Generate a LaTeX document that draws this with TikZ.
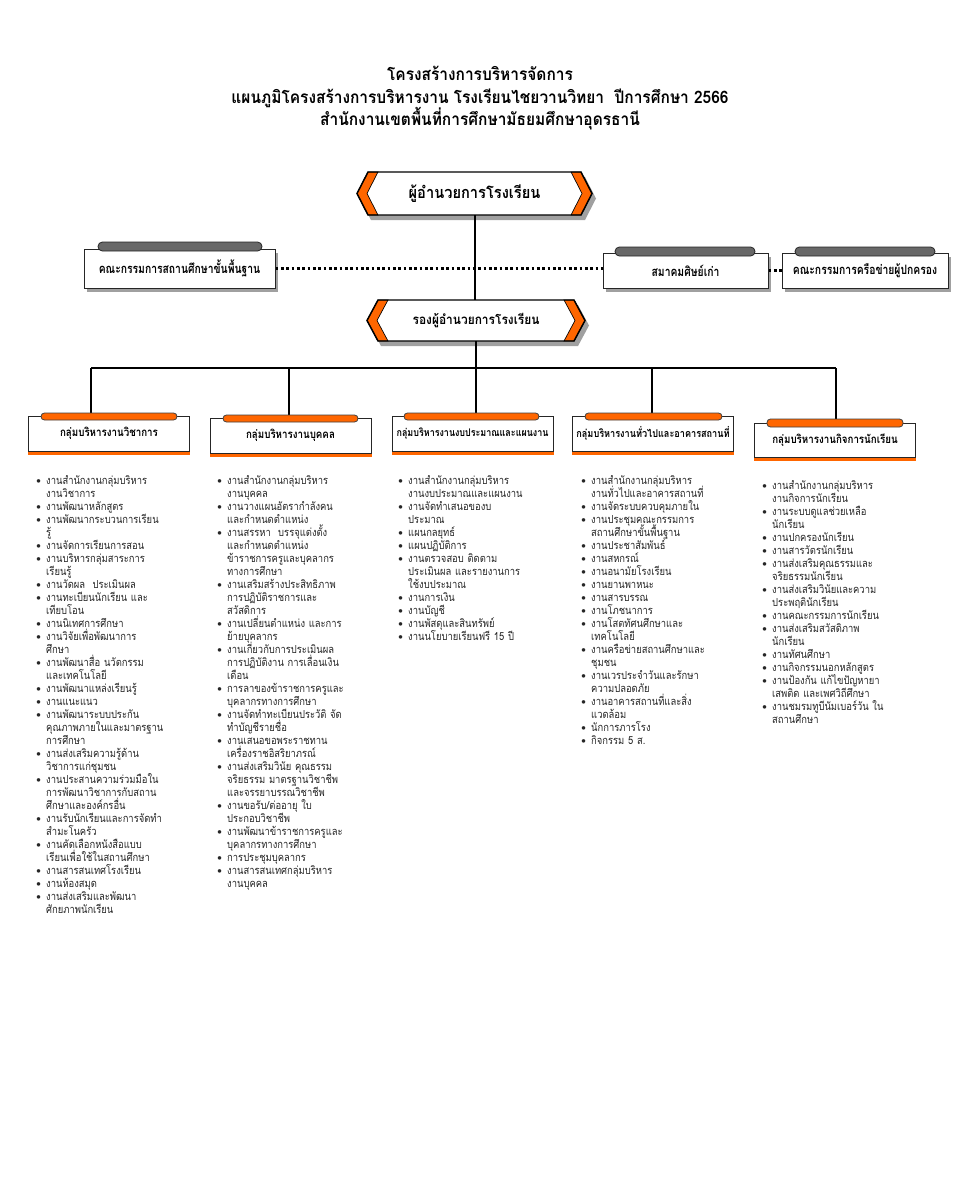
\documentclass[tikz,border=0pt]{standalone}
\usepackage{fontspec}
\setmainfont[Script=Thai]{Loma}
\newfontfamily\lomaA[Script=Thai,FakeStretch=0.85]{Loma}
\newfontfamily\lomaB[Script=Thai,FakeStretch=0.9]{Loma}
\newfontfamily\lomaC[Script=Thai,FakeStretch=0.8]{Loma}
\usetikzlibrary{shadows}
\definecolor{orng}{HTML}{FF6600}
\definecolor{pillgray}{HTML}{686868}
\definecolor{shgray}{HTML}{A0A0A0}
\newcommand\chevbox[4]{%
  \pgfmathsetmacro\chevmid{(#2+#4)/2}%
  \fill[shgray] ({#1+3},{\chevmid+5}) -- ({#1+14},{#2+5}) -- ({#3-7},{#2+5}) -- ({#3+4},{\chevmid+5}) -- ({#3-7},{#4+5}) -- ({#1+14},{#4+5}) -- cycle;
  \fill[white] (#1,\chevmid) -- ({#1+11},#2) -- ({#3-11},#2) -- (#3,\chevmid) -- ({#3-11},#4) -- ({#1+11},#4) -- cycle;
  \filldraw[fill=orng, draw=black, line width=0.5pt] (#1,\chevmid) -- ({#1+11},#2) -- ({#1+21},#2) -- ({#1+10},\chevmid) -- ({#1+21},#4) -- ({#1+11},#4) -- cycle;
  \filldraw[fill=orng, draw=black, line width=0.5pt] (#3,\chevmid) -- ({#3-11},#2) -- ({#3-21},#2) -- ({#3-10},\chevmid) -- ({#3-21},#4) -- ({#3-11},#4) -- cycle;
  \draw[line width=1.1pt, line join=miter] (#1,\chevmid) -- ({#1+11},#2) -- ({#3-11},#2) -- (#3,\chevmid) -- ({#3-11},#4) -- ({#1+11},#4) -- cycle;
}
\newcommand\bu{\makebox[8pt][l]{\hspace{0.6pt}\raisebox{0.3pt}{\scalebox{0.8}{$\bullet$}}}}
\newcommand\ct{\hspace*{8pt}}
\newcommand\lstart{\lineskiplimit=-50pt\lineskip=0pt\rule{0pt}{10pt}}
\tikzset{
  ttl/.style={font=\lomaB\bfseries\fontsize{12.9}{15}\selectfont, anchor=base, inner sep=0pt},
  headlbl/.style={font=\lomaB\bfseries\fontsize{12.2}{14}\selectfont, inner sep=0pt, minimum width=176.25pt, minimum height=32.25pt},
  deplbl/.style={font=\lomaB\bfseries\fontsize{9.95}{12}\selectfont, inner sep=0pt, minimum width=163.5pt, minimum height=30.75pt},
  cbox/.style={draw=black!85, line width=0.75pt, fill=white, inner sep=0pt, font=\lomaC\bfseries\fontsize{9.7}{11}\selectfont, general shadow={fill=shgray, shadow xshift=2.25pt, shadow yshift=-3pt}},
  gbox/.style={draw=black!85, line width=0.75pt, fill=white, inner sep=0pt, minimum width=120.75pt, minimum height=26.25pt, font=\lomaA\bfseries\fontsize{8.6}{10}\selectfont},
  gsmall/.style={font=\lomaA\bfseries\fontsize{7.9}{10}\selectfont},
  gmid/.style={font=\lomaA\bfseries\fontsize{8.05}{10}\selectfont},
  opill/.style={draw=black!75, fill=orng, line width=0.6pt, rounded corners=2.6pt},
  gpill/.style={draw=black!85, fill=pillgray, line width=0.6pt, rounded corners=3.3pt},
  conn/.style={line width=1.5pt},
  barline/.style={line width=1.9pt},
  dotline/.style={line width=2.2pt, dash pattern=on 2.2pt off 1.8pt},
  lst/.style={anchor=north west, inner sep=0pt, text width=165pt, align=left, font=\lomaA\fontsize{8.3}{9.75}\selectfont, text=black!85},
}
\begin{document}
\begin{tikzpicture}[x=0.75pt,y=-0.75pt]
\useasboundingbox (0,0) rectangle (960,1200);
\fill[white] (0,0) rectangle (960,1200);

% titles
\node[ttl] (t1) at (480,80) {โครงสร้างการบริหารจัดการ};
\node[ttl] (t2) at (480,103) {แผนภูมิโครงสร้างการบริหารงาน โรงเรียนไชยวานวิทยา\ \ ปีการศึกษา 2566};
\node[ttl] (t3) at (480,125) {สำนักงานเขตพื้นที่การศึกษามัธยมศึกษาอุดรธานี};

% chevron boxes
\chevbox{357}{172}{592}{215}
\chevbox{367}{300}{585}{341}
\node[headlbl] (dir) at (474.5,193.5) {ผู้อำนวยการโรงเรียน};
\node[deplbl] (dep) at (476,320.5) {รองผู้อำนวยการโรงเรียน};

% committees
\node[cbox, minimum width=143.25pt, minimum height=29.25pt] (c1) at (179.5,268.5) {คณะกรรมการสถานศึกษาขั้นพื้นฐาน};
\node[cbox, minimum width=123.75pt, minimum height=26.25pt] (c2) at (685.5,270.5) {สมาคมศิษย์เก่า};
\node[cbox, minimum width=124.5pt, minimum height=26.25pt] (c3) at (865,270.5) {คณะกรรมการครือข่ายผู้ปกครอง};
\draw[gpill] (98,242) rectangle (262,251);
\draw[gpill] (615,247) rectangle (755,256);
\draw[gpill] (795,247) rectangle (935,256);
\draw[dotline] (c1.east) -- (c1.east -| c2.west);
\draw[dotline] (c2.east) -- (c3.west);

% trunk
\draw[conn] (dir.south) -- (dir.south |- dep.north);
\coordinate (j1) at (91,368);
\coordinate (j2) at (289,368);
\coordinate (j3) at (476,368);
\coordinate (j4) at (652,368);
\coordinate (j5) at (836,368);
\draw[conn] (dep.south) -- (j3);
\draw[barline] (j1) -- (j5);

% group boxes
\node[gbox] (g1) at (109,433.5) {กลุ่มบริหารงานวิชาการ};
\node[gbox] (g2) at (290.5,435.5) {กลุ่มบริหารงานบุคคล};
\node[gbox, gsmall] (g3) at (472.5,433.5) {กลุ่มบริหารงานงบประมาณและแผนงาน};
\node[gbox, gmid] (g4) at (653,433.5) {กลุ่มบริหารงานทั่วไปและอาคารสถานที่};
\node[gbox, minimum height=25.5pt] (g5) at (835,440) {กลุ่มบริหารงานกิจการนักเรียน};
\foreach \g in {g1,g2,g3,g4,g5}{
  \fill[orng] (\g.south west) rectangle ([yshift=-2.6pt]\g.south east);
}
\draw[conn] (j1) -- (j1 |- g1.north);
\draw[conn] (j2) -- (j2 |- g2.north);
\draw[conn] (j3) -- (j3 |- g3.north);
\draw[conn] (j4) -- (j4 |- g4.north);
\draw[conn] (j5) -- (j5 |- g5.north);
\draw[opill] (41,413) rectangle (177,420);
\draw[opill] (223,415) rectangle (358,422);
\draw[opill] (404,413) rectangle (539,420);
\draw[opill] (585,413) rectangle (722,420);
\draw[opill] (767,419) rectangle (903,427);

% lists
\node[lst] (l1) at (35.3,470.7) {\lstart\bu งานสำนักงานกลุ่มบริหาร\\
\ct งานวิชาการ\\
\bu งานพัฒนาหลักสูตร\\
\bu งานพัฒนากระบวนการเรียน\\
\ct รู้\\
\bu งานจัดการเรียนการสอน\\
\bu งานบริหารกลุ่มสาระการ\\
\ct เรียนรู้\\
\bu งานวัดผล\ \ ประเมินผล\\
\bu งานทะเบียนนักเรียน และ\\
\ct เทียบโอน\\
\bu งานนิเทศการศึกษา\\
\bu งานวิจัยเพื่อพัฒนาการ\\
\ct ศึกษา\\
\bu งานพัฒนาสื่อ นวัตกรรม\\
\ct และเทคโนโลยี\\
\bu งานพัฒนาแหล่งเรียนรู้\\
\bu งานแนะแนว\\
\bu งานพัฒนาระบบประกัน\\
\ct คุณภาพภายในและมาตรฐาน\\
\ct การศึกษา\\
\bu งานส่งเสริมความรู้ด้าน\\
\ct วิชาการแก่ชุมชน\\
\bu งานประสานความร่วมมือใน\\
\ct การพัฒนาวิชาการกับสถาน\\
\ct ศึกษาและองค์กรอื่น\\
\bu งานรับนักเรียนและการจัดทำ\\
\ct สำมะโนครัว\\
\bu งานคัดเลือกหนังสือแบบ\\
\ct เรียนเพื่อใช้ในสถานศึกษา\\
\bu งานสารสนเทศโรงเรียน\\
\bu งานห้องสมุด\\
\bu งานส่งเสริมและพัฒนา\\
\ct ศักยภาพนักเรียน};

\node[lst] (l2) at (216.3,470.7) {\lstart\bu งานสำนักงานกลุ่มบริหาร\\
\ct งานบุคคล\\
\bu งานวางแผนอัตรากำลังคน\\
\ct และกำหนดตำแหน่ง\\
\bu งานสรรหา\ \ บรรจุแต่งตั้ง\\
\ct และกำหนดตำแหน่ง\\
\ct ข้าราชการครูและบุคลากร\\
\ct ทางการศึกษา\\
\bu งานเสริมสร้างประสิทธิภาพ\\
\ct การปฏิบัติราชการและ\\
\ct สวัสดิการ\\
\bu งานเปลี่ยนตำแหน่ง และการ\\
\ct ย้ายบุคลากร\\
\bu งานเกี่ยวกับการประเมินผล\\
\ct การปฏิบัติงาน การเลื่อนเงิน\\
\ct เดือน\\
\bu การลาของข้าราชการครูและ\\
\ct บุคลากรทางการศึกษา\\
\bu งานจัดทำทะเบียนประวัติ จัด\\
\ct ทำบัญชีรายชื่อ\\
\bu งานเสนอขอพระราชทาน\\
\ct เครื่องราชอิสริยาภรณ์\\
\bu งานส่งเสริมวินัย คุณธรรม\\
\ct จริยธรรม มาตรฐานวิชาชีพ\\
\ct และจรรยาบรรณวิชาชีพ\\
\bu งานขอรับ/ต่ออายุ ใบ\\
\ct ประกอบวิชาชีพ\\
\bu งานพัฒนาข้าราชการครูและ\\
\ct บุคลากรทางการศึกษา\\
\bu การประชุมบุคลากร\\
\bu งานสารสนเทศกลุ่มบริหาร\\
\ct งานบุคคล};

\node[lst] (l3) at (397.3,470.7) {\lstart\bu งานสำนักงานกลุ่มบริหาร\\
\ct งานงบประมาณและแผนงาน\\
\bu งานจัดทำเสนอของบ\\
\ct ประมาณ\\
\bu แผนกลยุทธ์\\
\bu แผนปฏิบัติการ\\
\bu งานตรวจสอบ ติดตาม\\
\ct ประเมินผล และรายงานการ\\
\ct ใช้งบประมาณ\\
\bu งานการเงิน\\
\bu งานบัญชี\\
\bu งานพัสดุและสินทรัพย์\\
\bu งานนโยบายเรียนฟรี 15 ปี};

\node[lst] (l4) at (580.3,470.7) {\lstart\bu งานสำนักงานกลุ่มบริหาร\\
\ct งานทั่วไปและอาคารสถานที่\\
\bu งานจัดระบบควบคุมภายใน\\
\bu งานประชุมคณะกรรมการ\\
\ct สถานศึกษาขั้นพื้นฐาน\\
\bu งานประชาสัมพันธ์\\
\bu งานสหกรณ์\\
\bu งานอนามัยโรงเรียน\\
\bu งานยานพาหนะ\\
\bu งานสารบรรณ\\
\bu งานโภชนาการ\\
\bu งานโสตทัศนศึกษาและ\\
\ct เทคโนโลยี\\
\bu งานครือข่ายสถานศึกษาและ\\
\ct ชุมชน\\
\bu งานเวรประจำวันและรักษา\\
\ct ความปลอดภัย\\
\bu งานอาคารสถานที่และสิ่ง\\
\ct แวดล้อม\\
\bu นักการภารโรง\\
\bu กิจกรรม 5 ส.};

\node[lst] (l5) at (761.3,475.7) {\lstart\bu งานสำนักงานกลุ่มบริหาร\\
\ct งานกิจการนักเรียน\\
\bu งานระบบดูแลช่วยเหลือ\\
\ct นักเรียน\\
\bu งานปกครองนักเรียน\\
\bu งานสารวัตรนักเรียน\\
\bu งานส่งเสริมคุณธรรมและ\\
\ct จริยธรรมนักเรียน\\
\bu งานส่งเสริมวินัยและความ\\
\ct ประพฤตินักเรียน\\
\bu งานคณะกรรมการนักเรียน\\
\bu งานส่งเสริมสวัสดิภาพ\\
\ct นักเรียน\\
\bu งานทัศนศึกษา\\
\bu งานกิจกรรมนอกหลักสูตร\\
\bu งานป้องกัน แก้ไขปัญหายา\\
\ct เสพติด และเพศวิถีศึกษา\\
\bu งานชมรมทูบีนัมเบอร์วัน ใน\\
\ct สถานศึกษา};
\end{tikzpicture}
\end{document}
